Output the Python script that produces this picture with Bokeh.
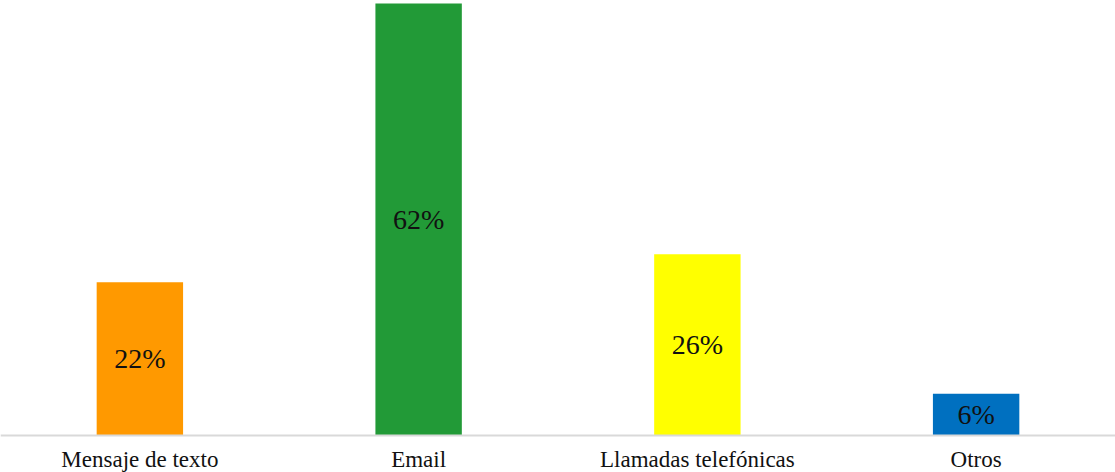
from bokeh.plotting import figure
from bokeh.models import ColumnDataSource, FactorRange, Span, Range1d
from bokeh.embed import file_html
from bokeh.resources import INLINE
from bokeh.core.properties import value

categories = ["Mensaje de texto", "Email", "Llamadas telefónicas", "Otros"]
values = [22, 62, 26, 6]
colors = ["#FF9900", "#229A37", "#FFFF00", "#0070C0"]
labels = [f"{v}%" for v in values]

src = ColumnDataSource(dict(cat=categories, val=values, half=[v / 2 for v in values],
                            color=colors, label=labels, zero=[0] * len(values)))

px_per_unit = 432 / 62
p = figure(width=1115, height=472,
           x_range=FactorRange(*categories, range_padding=0, start=-0.011, end=4.004),
           y_range=Range1d(-37 / px_per_unit, 62 + 3 / px_per_unit),
           output_backend="svg", toolbar_location=None,
           min_border=0, outline_line_color=None)
p.xaxis.visible = False
p.yaxis.visible = False
p.xgrid.visible = False
p.ygrid.visible = False
p.background_fill_color = "white"
p.border_fill_color = "white"

p.vbar(x="cat", top="val", bottom=0, width=0.31, fill_color="color", line_color=None, source=src)
p.add_layout(Span(location=0, dimension="width", line_color="#D9D9D9", line_width=2))

p.text(x="cat", y="half", text="label", source=src, text_align="center", text_baseline="middle",
       text_font=value("Liberation Serif"), text_font_size="28px", text_color="#111111")
p.text(x="cat", y="zero", text="cat", source=src, text_align="center", text_baseline="alphabetic",
       y_offset=24, text_font=value("Liberation Serif"), text_font_size="23px", text_color="#111111")

open("out.html", "w").write(file_html(p, INLINE))
